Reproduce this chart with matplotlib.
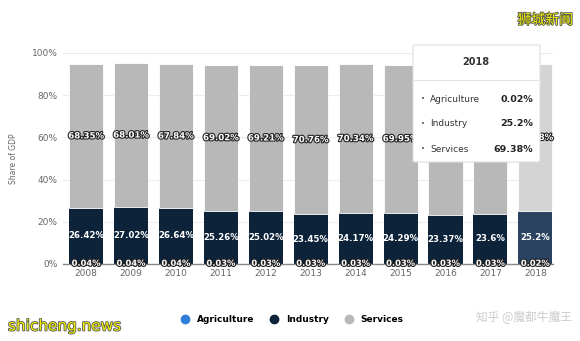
import matplotlib.pyplot as plt
import matplotlib.patheffects as pe
import numpy as np
from matplotlib.patches import FancyBboxPatch
from matplotlib.lines import Line2D

plt.rcParams['font.family'] = ['DejaVu Sans', 'Noto Sans CJK SC']

years = ['2008', '2009', '2010', '2011', '2012', '2013', '2014', '2015', '2016', '2017', '2018']
agriculture = [0.04, 0.04, 0.04, 0.03, 0.03, 0.03, 0.03, 0.03, 0.03, 0.03, 0.02]
industry = [26.42, 27.02, 26.64, 25.26, 25.02, 23.45, 24.17, 24.29, 23.37, 23.6, 25.2]
services = [68.35, 68.01, 67.84, 69.02, 69.21, 70.76, 70.34, 69.95, 70.6, 70.4, 69.38]

c_agri = '#2f7ed8'
c_ind = '#0d233a'
c_serv = '#b8b8b8'

fig = plt.figure(figsize=(5.8, 3.41), dpi=100)
ax = fig.add_axes([0.109, 0.226, 0.845, 0.619])

x = np.arange(len(years))
w = 0.76
agri = np.array(agriculture)
ind = np.array(industry)
serv = np.array(services)

ind_col = [c_ind] * 10 + ['#2a4360']
serv_col = [c_serv] * 10 + ['#d4d4d4']
ax.bar(x, agri, w, color=c_agri, zorder=2)
ax.bar(x, ind, w, bottom=agri, color=ind_col, zorder=2)
ax.bar(x, serv, w, bottom=agri + ind, color=serv_col, zorder=2,
       edgecolor='white', linewidth=0.6)

stroke = [pe.withStroke(linewidth=1.6, foreground='#222222')]
for i in range(len(years)):
    ax.text(x[i], agri[i] + ind[i] + serv[i] / 2, f'{services[i]:g}%', ha='center', va='center',
            fontsize=6.2, fontweight='bold', color='white', path_effects=stroke, zorder=3)
    ax.text(x[i], agri[i] + ind[i] / 2, f'{industry[i]:g}%', ha='center', va='center',
            fontsize=6.2, fontweight='bold', color='white', zorder=3)
    ax.text(x[i], 0.3, f'{agriculture[i]:.2f}%', ha='center', va='center',
            fontsize=6.0, fontweight='bold', color='white', path_effects=stroke, zorder=3)

ax.set_xlim(-0.51, 10.4)
ax.set_ylim(0, 100)
ax.set_yticks([0, 20, 40, 60, 80, 100])
ax.set_yticklabels(['0%', '20%', '40%', '60%', '80%', '100%'])
ax.set_xticks(x)
ax.set_xticklabels(years)
ax.tick_params(axis='both', length=0, labelsize=6.5, colors='#666666', pad=4)
ax.set_ylabel('Share of GDP', fontsize=5.5, color='#666666', labelpad=10)
ax.grid(axis='y', color='#ececec', linewidth=0.8, zorder=0)
for s in ['top', 'right', 'left']:
    ax.spines[s].set_visible(False)
ax.spines['bottom'].set_color('#888888')
ax.spines['bottom'].set_linewidth(1.0)

# legend
handles = [Line2D([], [], marker='o', linestyle='', markersize=6, color=c) for c in (c_agri, c_ind, c_serv)]
fig.legend(handles, ['Agriculture', 'Industry', 'Services'], loc='center', bbox_to_anchor=(0.5, 0.064),
           ncol=3, frameon=False, handletextpad=0.3, columnspacing=1.2,
           prop={'weight': 'bold', 'size': 6.5})

# tooltip for 2018
tx0, ty0, tw, th = 413 / 580, 1 - 162 / 341, 127 / 580, 117 / 341
box = FancyBboxPatch((tx0, ty0), tw, th, boxstyle='round,pad=0,rounding_size=0.004',
                     transform=fig.transFigure, facecolor='white', edgecolor='#dddddd',
                     linewidth=0.8, zorder=10)
fig.patches.append(box)
fig.text(476 / 580, 1 - 62 / 341, '2018', ha='center', va='center', fontsize=7,
         fontweight='bold', color='#333333', zorder=11)
fig.add_artist(Line2D([tx0, tx0 + tw], [1 - 80 / 341] * 2, transform=fig.transFigure,
                      color='#e4e4e4', linewidth=0.8, zorder=11))
rows = [('Agriculture', '0.02%', 99), ('Industry', '25.2%', 124), ('Services', '69.38%', 149)]
for name, val, yy in rows:
    fy = 1 - yy / 341
    fig.text(423 / 580, fy, '•', ha='center', va='center', fontsize=5, color='#555555', zorder=11)
    fig.text(430 / 580, fy, name, ha='left', va='center', fontsize=6.5, color='#333333', zorder=11)
    fig.text(533 / 580, fy, val, ha='right', va='center', fontsize=6.8, fontweight='bold',
             color='#222222', zorder=11)

# watermarks
wm = [pe.withStroke(linewidth=1.2, foreground='#555555')]
fig.text(573 / 580, 1 - 20 / 341, '狮城新闻', ha='right', va='center', fontsize=10,
         color='#f0f000', family=['Noto Sans CJK SC'], path_effects=wm)
fig.text(8 / 580, 1 - 326 / 341, 'shicheng.news', ha='left', va='center', fontsize=11,
         color='#f0f000', path_effects=wm)
fig.text(572 / 580, 1 - 317 / 341, '知乎 @魔都牛魔王', ha='right', va='center', fontsize=8.5,
         color='#cccccc', family=['Noto Sans CJK SC'])

fig.savefig('out.png', dpi=100)
